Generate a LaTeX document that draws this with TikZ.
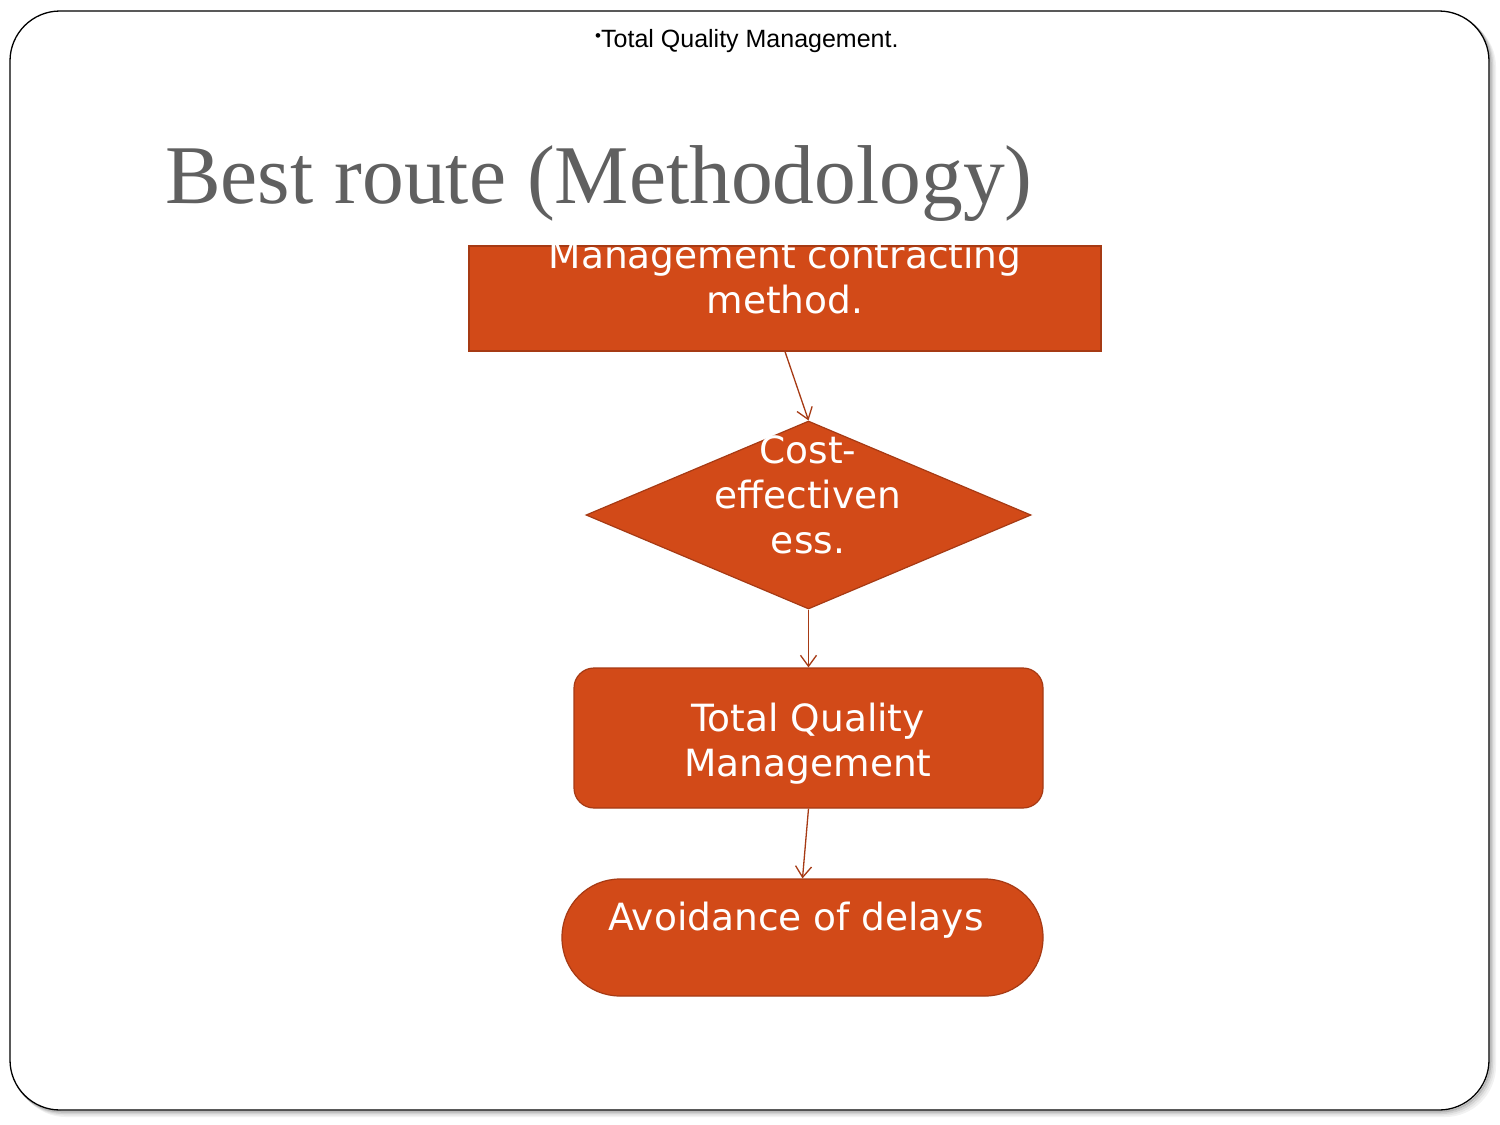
\documentclass[tikz,border=0pt]{standalone}
\usepackage{fontspec}
\setmainfont{DejaVu Sans}
\newfontfamily\hdrfont{Liberation Sans}
\newfontfamily\ttlfont{Liberation Serif}
\usetikzlibrary{shapes.geometric,arrows.meta}
\definecolor{boxfill}{HTML}{D24A18}
\definecolor{boxline}{HTML}{A63A14}
\definecolor{ttlgray}{HTML}{606060}
\tikzset{
  shapebox/.style={fill=boxfill, draw=boxline, line width=1.2pt, inner sep=0pt},
  boxtext/.style={text=white, align=center, font=\fontsize{37.5}{45}\selectfont, inner sep=0pt},
  conn/.style={draw=boxline, line width=1.3pt, -{Straight Barb[length=11pt,width=16pt,line width=1.3pt]}},
}
\begin{document}
\begin{tikzpicture}[x=1pt,y=-1pt]
\useasboundingbox (0,0) rectangle (1500,1125);
% slide frame with shadow
\foreach \o/\c in {6/gray!10,4.5/gray!20,3/gray!35,1.5/gray!55}{
  \draw[line width=2pt, \c, rounded corners=50pt] (10+\o,11+\o) rectangle (1489+\o,1110+\o);
}
\draw[fill=white, draw=black, line width=1.3pt, rounded corners=50pt] (10,11) rectangle (1489,1110);
% header
\node[anchor=base west, font=\hdrfont\fontsize{25}{28}\selectfont, inner sep=0pt] (hdr) at (595,47)
  {\raisebox{6pt}{\fontsize{17}{18}\selectfont•}Total Quality Management.};
% title
\node[anchor=base west, font=\ttlfont\fontsize{83.5}{95}\selectfont, text=ttlgray, inner sep=0pt] (ttl) at (165,203)
  {Best route (Methodology)};
% shapes
\node[shapebox, rectangle, minimum width=632pt, minimum height=105pt] (b1) at (785,298.5) {};
\node[boxtext, anchor=base] (t1) at (785,313) {Management contracting\\method.};
\node[shapebox, diamond, aspect=2.37, minimum width=445pt, minimum height=188pt] (d1) at (808.5,515) {};
\node[boxtext, anchor=base] (t2) at (808,553) {Cost-\\effectiven\\ess.};
\node[shapebox, rectangle, rounded corners=20pt, minimum width=469pt, minimum height=140pt] (b2) at (808.5,738) {};
\node[boxtext, anchor=base] (t3) at (808,776) {Total Quality\\Management};
\node[shapebox, rectangle, rounded corners=58pt, minimum width=481pt, minimum height=117pt] (b3) at (802.5,937.5) {};
\node[boxtext, anchor=base] (t4) at (796,930) {Avoidance of delays};
% connectors
\draw[conn] (b1.south) -- (d1.north);
\draw[conn] (d1.south) -- (b2.north);
\draw[conn] (b2.south) -- (b3.north);
\end{tikzpicture}
\end{document}
